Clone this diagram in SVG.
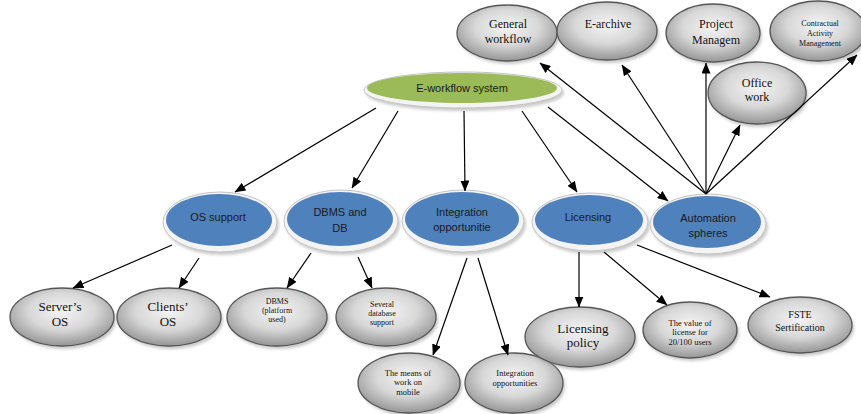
<svg xmlns="http://www.w3.org/2000/svg" width="861" height="414" viewBox="0 0 861 414">
<defs>
<radialGradient id="gg" cx="50%" cy="40%" r="58%">
<stop offset="0" stop-color="#f4f4f4"/>
<stop offset="0.55" stop-color="#d8d8d8"/>
<stop offset="1" stop-color="#9a9a9a"/>
</radialGradient>
<filter id="sh" x="-20%" y="-20%" width="140%" height="150%">
<feGaussianBlur stdDeviation="1.5"/>
</filter>
<marker id="ah" markerWidth="11" markerHeight="9" refX="10.5" refY="4.5" orient="auto" markerUnits="userSpaceOnUse">
<path d="M0,0 L11,4.5 L0,9 Z" fill="#000"/>
</marker>
</defs>
<style>
.g{fill:url(#gg);stroke:#555;stroke-width:1.3}
.gs{fill:#9a9a9a;opacity:0.55;filter:url(#sh)}
.bo{fill:#f4f4f4;stroke:#c4c4c4;stroke-width:1}
.b{fill:#4f81bd}
.gr{fill:#9bbb59}
.bs{fill:#a8a8a8;opacity:0.6;filter:url(#sh)}
.t{font-family:"Liberation Serif","Times New Roman",serif;fill:#111;text-anchor:middle}
.s{font-family:"Liberation Sans",Arial,sans-serif;font-size:11px;fill:#1a1a1a;text-anchor:middle}
.c line{stroke:#000;stroke-width:1.2;marker-end:url(#ah)}
</style>
<rect width="861" height="414" fill="#fff"/>

<g id="n-general">
<ellipse class="gs" cx="509" cy="36" rx="50" ry="28"/>
<ellipse class="g" cx="507" cy="33" rx="50" ry="28"/>
<text class="t" font-size="12" x="508" y="28">General</text>
<text class="t" font-size="12" x="508" y="43">workflow</text>
</g>
<g id="n-earchive">
<ellipse class="gs" cx="609" cy="34" rx="50" ry="29"/>
<ellipse class="g" cx="607" cy="31" rx="50" ry="29"/>
<text class="t" font-size="12" x="608" y="28">E-archive</text>
</g>
<g id="n-project">
<ellipse class="gs" cx="715" cy="36" rx="47" ry="29"/>
<ellipse class="g" cx="713" cy="33" rx="47" ry="29"/>
<text class="t" font-size="12" x="716" y="28">Project</text>
<text class="t" font-size="12" x="716" y="44">Managem</text>
</g>
<g id="n-contract">
<ellipse class="gs" cx="820" cy="34" rx="48" ry="30"/>
<ellipse class="g" cx="818" cy="31" rx="48" ry="30"/>
<text class="t" font-size="8" x="820" y="26">Contractual</text>
<text class="t" font-size="8" x="820" y="36">Activity</text>
<text class="t" font-size="8" x="820" y="46">Management</text>
</g>
<g id="n-office">
<ellipse class="gs" cx="759" cy="96" rx="49" ry="31"/>
<ellipse class="g" cx="757" cy="93" rx="49" ry="31"/>
<text class="t" font-size="12" x="757" y="87">Office</text>
<text class="t" font-size="12" x="757" y="101">work</text>
</g>

<g id="n-eworkflow">
<ellipse class="bs" cx="465" cy="93" rx="99" ry="18"/>
<ellipse class="bo" cx="463" cy="90" rx="99" ry="18"/>
<ellipse class="gr" cx="462" cy="88" rx="95" ry="15"/>
<text class="s" x="462" y="92">E-workflow system</text>
</g>

<g id="n-os">
<ellipse class="bs" cx="222" cy="225" rx="57" ry="30"/>
<ellipse class="bo" cx="220" cy="222" rx="57" ry="30"/>
<ellipse class="b" cx="219" cy="220" rx="53" ry="26"/>
<text class="s" x="218" y="221">OS support</text>
</g>
<g id="n-dbms">
<ellipse class="bs" cx="343" cy="224" rx="57" ry="31"/>
<ellipse class="bo" cx="341" cy="221" rx="57" ry="31"/>
<ellipse class="b" cx="340" cy="219" rx="53" ry="27"/>
<text class="s" x="340" y="216">DBMS and</text>
<text class="s" x="340" y="232">DB</text>
</g>
<g id="n-integ">
<ellipse class="bs" cx="465" cy="224" rx="61" ry="31"/>
<ellipse class="bo" cx="463" cy="221" rx="61" ry="31"/>
<ellipse class="b" cx="462" cy="219" rx="57" ry="27"/>
<text class="s" x="462" y="216">Integration</text>
<text class="s" x="462" y="231">opportunitie</text>
</g>
<g id="n-lic">
<ellipse class="bs" cx="592" cy="225" rx="58" ry="29"/>
<ellipse class="bo" cx="590" cy="222" rx="58" ry="29"/>
<ellipse class="b" cx="589" cy="220" rx="54" ry="25"/>
<text class="s" x="588" y="221">Licensing</text>
</g>
<g id="n-auto">
<ellipse class="bs" cx="710" cy="227" rx="58" ry="30"/>
<ellipse class="bo" cx="708" cy="224" rx="58" ry="30"/>
<ellipse class="b" cx="707" cy="222" rx="54" ry="26"/>
<text class="s" x="708" y="222">Automation</text>
<text class="s" x="708" y="237">spheres</text>
</g>

<g id="n-server">
<ellipse class="gs" cx="64" cy="320" rx="52" ry="29"/>
<ellipse class="g" cx="62" cy="317" rx="52" ry="29"/>
<text class="t" font-size="13" x="60" y="311">Server’s</text>
<text class="t" font-size="13" x="60" y="326">OS</text>
</g>
<g id="n-clients">
<ellipse class="gs" cx="171" cy="320" rx="52" ry="29"/>
<ellipse class="g" cx="169" cy="317" rx="52" ry="29"/>
<text class="t" font-size="13" x="168" y="311">Clients’</text>
<text class="t" font-size="13" x="168" y="326">OS</text>
</g>
<g id="n-platform">
<ellipse class="gs" cx="279" cy="320" rx="50" ry="29"/>
<ellipse class="g" cx="277" cy="317" rx="50" ry="29"/>
<text class="t" font-size="8" x="277" y="304">DBMS</text>
<text class="t" font-size="8" x="277" y="313">(platform</text>
<text class="t" font-size="8" x="277" y="322">used)</text>
</g>
<g id="n-several">
<ellipse class="gs" cx="388" cy="320" rx="50" ry="29"/>
<ellipse class="g" cx="386" cy="317" rx="50" ry="29"/>
<text class="t" font-size="8" x="382" y="307">Several</text>
<text class="t" font-size="8" x="382" y="316">database</text>
<text class="t" font-size="8" x="382" y="325">support</text>
</g>
<g id="n-mobile">
<ellipse class="gs" cx="411" cy="386" rx="51" ry="30"/>
<ellipse class="g" cx="409" cy="383" rx="51" ry="30"/>
<text class="t" font-size="8.5" x="408" y="376">The means of</text>
<text class="t" font-size="8.5" x="408" y="385">work on</text>
<text class="t" font-size="8.5" x="408" y="395">mobile</text>
</g>
<g id="n-intopp">
<ellipse class="gs" cx="516" cy="386" rx="49" ry="30"/>
<ellipse class="g" cx="514" cy="383" rx="49" ry="30"/>
<text class="t" font-size="8.5" x="515" y="376">Integration</text>
<text class="t" font-size="8.5" x="515" y="386">opportunities</text>
</g>
<g id="n-policy">
<ellipse class="gs" cx="582" cy="340" rx="55" ry="30"/>
<ellipse class="g" cx="580" cy="337" rx="55" ry="30"/>
<text class="t" font-size="13" x="583" y="333">Licensing</text>
<text class="t" font-size="13" x="583" y="347">policy</text>
</g>
<g id="n-value">
<ellipse class="gs" cx="692" cy="333" rx="47" ry="28"/>
<ellipse class="g" cx="690" cy="330" rx="47" ry="28"/>
<text class="t" font-size="8.5" x="690" y="326">The value of</text>
<text class="t" font-size="8.5" x="690" y="335">license for</text>
<text class="t" font-size="8.5" x="690" y="345">20/100 users</text>
</g>
<g id="n-fste">
<ellipse class="gs" cx="802" cy="328" rx="52" ry="28"/>
<ellipse class="g" cx="800" cy="325" rx="52" ry="28"/>
<text class="t" font-size="10" x="800" y="318">FSTE</text>
<text class="t" font-size="10" x="800" y="331">Sertification</text>
</g>

<g id="connectors" class="c">
<line x1="376" y1="108" x2="235" y2="192"/>
<line x1="398" y1="111" x2="352" y2="188"/>
<line x1="464" y1="111" x2="465" y2="191"/>
<line x1="522" y1="111" x2="577" y2="192"/>
<line x1="548" y1="107" x2="668" y2="201"/>
<line x1="706" y1="194" x2="540" y2="63"/>
<line x1="706" y1="194" x2="622" y2="65"/>
<line x1="706" y1="194" x2="706" y2="63"/>
<line x1="706" y1="194" x2="740" y2="125"/>
<line x1="706" y1="194" x2="857" y2="55"/>
<line x1="172" y1="245" x2="73" y2="288"/>
<line x1="199" y1="258" x2="179" y2="288"/>
<line x1="311" y1="253" x2="287" y2="288"/>
<line x1="358" y1="257" x2="372" y2="288"/>
<line x1="467" y1="258" x2="433" y2="355"/>
<line x1="478" y1="258" x2="508" y2="355"/>
<line x1="579" y1="252" x2="579" y2="307"/>
<line x1="604" y1="252" x2="667" y2="305"/>
<line x1="637" y1="245" x2="770" y2="297"/>
</g>
</svg>
